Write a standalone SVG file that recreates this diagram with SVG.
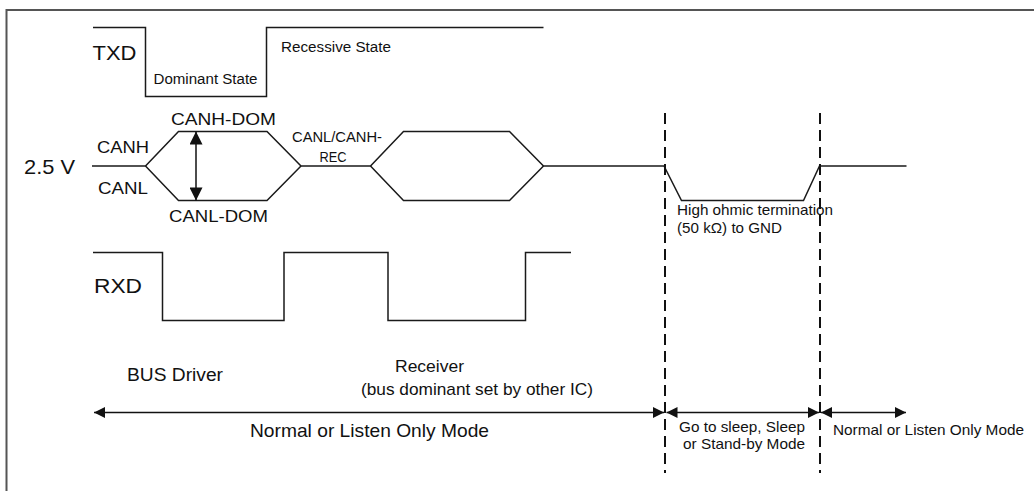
<svg xmlns="http://www.w3.org/2000/svg" width="1034" height="491" viewBox="0 0 1034 491">
  <defs>
    <style>
      .frame { fill: none; stroke: #555; stroke-width: 2; }
      .sig { fill: none; stroke: #1a1a1a; stroke-width: 1.5; stroke-linejoin: miter; }
      .sep { fill: none; stroke: #111; stroke-width: 2; stroke-dasharray: 11 6; }
      .dim { fill: none; stroke: #111; stroke-width: 1.5; }
      text { font-family: "Liberation Sans", Arial, sans-serif; fill: #111; }
    </style>
    <!-- filled arrowhead for the mode spans -->
    <marker id="arrowH" viewBox="0 0 10 10" refX="10" refY="5" markerUnits="userSpaceOnUse" markerWidth="18" markerHeight="11" orient="auto-start-reverse">
      <path d="M0,0 L10,5 L0,10 z" fill="#111"/>
    </marker>
    <!-- filled arrowhead for the differential voltage -->
    <marker id="arrowV" viewBox="0 0 10 10" refX="10" refY="5" markerUnits="userSpaceOnUse" markerWidth="16" markerHeight="13" orient="auto-start-reverse">
      <path d="M0,0 L10,5 L0,10 z" fill="#111"/>
    </marker>
  </defs>

  <rect width="1034" height="491" fill="#fff"/>

  <!-- open frame: top and left edges -->
  <path class="frame" d="M6.5,491 V10 H1034"/>

  <!-- TXD signal -->
  <g id="txd">
    <path class="sig" d="M93,27.5 H145.5 V96.5 H266.5 V27.5 H543.5"/>
    <text x="92.5" y="60" font-size="20" textLength="44" lengthAdjust="spacingAndGlyphs">TXD</text>
    <text x="153.5" y="84" font-size="14" textLength="104" lengthAdjust="spacingAndGlyphs">Dominant State</text>
    <text x="281" y="52" font-size="14" textLength="110" lengthAdjust="spacingAndGlyphs">Recessive State</text>
  </g>

  <!-- CANH / CANL bus lines -->
  <g id="can-bus">
    <path class="sig" d="M92,166 H145.5 L178.5,131.5 H267 L301,166 H370.5 L403.5,131.5 H509.5 L543.5,166 H664 L681.5,200.5 H803.5 L819.5,166 H906.5"/>
    <path class="sig" d="M145.5,166 L178.5,200.5 H267 L301,166 M370.5,166 L403.5,200.5 H509.5 L543.5,166"/>
    <line class="dim" x1="196" y1="148" x2="196" y2="184"/>
    <line class="dim" x1="196" y1="148" x2="196" y2="131.5" marker-end="url(#arrowV)"/>
    <line class="dim" x1="196" y1="184" x2="196" y2="200.5" marker-end="url(#arrowV)"/>
    <text x="24" y="174" font-size="21" textLength="51" lengthAdjust="spacingAndGlyphs">2.5 V</text>
    <text x="97" y="153" font-size="17" textLength="52" lengthAdjust="spacingAndGlyphs">CANH</text>
    <text x="98" y="194" font-size="17" textLength="50" lengthAdjust="spacingAndGlyphs">CANL</text>
    <text x="171" y="125" font-size="17" textLength="105" lengthAdjust="spacingAndGlyphs">CANH-DOM</text>
    <text x="169" y="221.5" font-size="17" textLength="99" lengthAdjust="spacingAndGlyphs">CANL-DOM</text>
    <text x="292" y="141.5" font-size="14" textLength="90" lengthAdjust="spacingAndGlyphs">CANL/CANH-</text>
    <text x="319.5" y="162" font-size="14" textLength="27" lengthAdjust="spacingAndGlyphs">REC</text>
    <text x="677" y="214.5" font-size="15" textLength="156" lengthAdjust="spacingAndGlyphs">High ohmic termination</text>
    <text x="677" y="232.5" font-size="15" textLength="105" lengthAdjust="spacingAndGlyphs">(50 kΩ) to GND</text>
  </g>

  <!-- RXD signal -->
  <g id="rxd">
    <path class="sig" d="M93,252.5 H162.5 V320.5 H284 V252.5 H388 V320.5 H525.5 V252.5 H571"/>
    <text x="94" y="293" font-size="21" textLength="48" lengthAdjust="spacingAndGlyphs">RXD</text>
  </g>

  <!-- mode boundaries -->
  <g id="separators">
    <line class="sep" x1="665" y1="113" x2="665" y2="473"/>
    <line class="sep" x1="820" y1="113" x2="820" y2="473"/>
  </g>

  <!-- mode spans -->
  <g id="connectors">
    <line class="dim" x1="94" y1="412.5" x2="664" y2="412.5" marker-start="url(#arrowH)" marker-end="url(#arrowH)"/>
    <line class="dim" x1="666.5" y1="412.5" x2="819" y2="412.5" marker-start="url(#arrowH)" marker-end="url(#arrowH)"/>
    <line class="dim" x1="821" y1="412.5" x2="906" y2="412.5" marker-start="url(#arrowH)" marker-end="url(#arrowH)"/>
  </g>

  <g id="labels-normal">
    <text x="127" y="380.5" font-size="18" textLength="96" lengthAdjust="spacingAndGlyphs">BUS Driver</text>
    <text x="395" y="371.5" font-size="17" textLength="69" lengthAdjust="spacingAndGlyphs">Receiver</text>
    <text x="361" y="395" font-size="17" textLength="232" lengthAdjust="spacingAndGlyphs">(bus dominant set by other IC)</text>
    <text x="250" y="436.5" font-size="19" textLength="239" lengthAdjust="spacingAndGlyphs">Normal or Listen Only Mode</text>
  </g>

  <g id="labels-sleep">
    <text x="679" y="431.5" font-size="15" textLength="126" lengthAdjust="spacingAndGlyphs">Go to sleep, Sleep</text>
    <text x="683" y="449" font-size="15" textLength="122" lengthAdjust="spacingAndGlyphs">or Stand-by Mode</text>
  </g>

  <g id="labels-wake">
    <text x="833" y="435" font-size="15" textLength="191" lengthAdjust="spacingAndGlyphs">Normal or Listen Only Mode</text>
  </g>
</svg>
